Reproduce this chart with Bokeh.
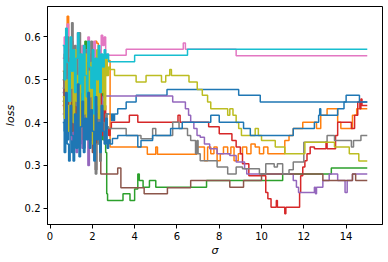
from bokeh.plotting import figure
from bokeh.models import Range1d, FixedTicker
from bokeh.embed import file_html
from bokeh.resources import INLINE

# ---------------- data ----------------
x_ticks = [0, 2, 4, 6, 8, 10, 12, 14]
y_ticks = [0.2, 0.3, 0.4, 0.5, 0.6]
x_end = 15.0

noise_x = [0.60, 0.67, 0.74, 0.81, 0.88, 0.95, 1.02, 1.09, 1.16, 1.23, 1.30, 1.37,
           1.44, 1.51, 1.58, 1.65, 1.72, 1.79, 1.86, 1.93, 2.00, 2.07, 2.14, 2.21,
           2.28, 2.35, 2.42, 2.49, 2.56, 2.63, 2.70, 2.77]

blue1_noise = [0.47, 0.38, 0.52, 0.36, 0.45, 0.40, 0.33, 0.48, 0.37, 0.42, 0.35, 0.50, 0.39,
               0.44, 0.34, 0.46, 0.41, 0.37, 0.49, 0.36, 0.43, 0.39, 0.47, 0.35, 0.42, 0.38,
               0.45, 0.40, 0.43]
blue1_x = [2.60, 2.90, 2.95, 3.00, 3.05, 3.20, 3.60, 4.07, 5.53, 8.92, 9.94, 14.00, 14.63]
blue1_y = [0.42, 0.405, 0.42, 0.405, 0.42, 0.432, 0.448, 0.464, 0.477, 0.464, 0.448, 0.464, 0.448]

orange_noise = [0.52, 0.44, 0.58, 0.648, 0.47, 0.55, 0.41, 0.50, 0.57, 0.43, 0.53, 0.46, 0.39,
                0.51, 0.45, 0.56, 0.42, 0.49, 0.54, 0.40, 0.47, 0.52, 0.59, 0.585, 0.44, 0.50,
                0.53, 0.46, 0.55, 0.51, 0.545, 0.545]
orange_x = [2.84, 4.60, 5.00, 5.08, 6.95, 7.30, 7.45, 7.60, 7.75, 7.90, 8.05, 8.20, 8.40, 8.55,
            8.70, 8.90, 9.10, 9.30, 9.50, 9.70, 9.90, 10.10, 10.30, 11.10, 11.30, 11.50, 11.95,
            12.60, 12.80, 13.10, 13.60, 13.75, 14.30, 14.50]
orange_y = [0.343, 0.326, 0.343, 0.326, 0.343, 0.311, 0.343, 0.327, 0.343, 0.311, 0.327, 0.343,
            0.327, 0.343, 0.311, 0.327, 0.343, 0.327, 0.35, 0.343, 0.327, 0.343, 0.327, 0.358,
            0.37, 0.386, 0.401, 0.386, 0.417, 0.432, 0.401, 0.386, 0.417, 0.432]

green_noise = [0.45, 0.52, 0.40, 0.48, 0.55, 0.38, 0.46, 0.50, 0.42, 0.53, 0.37, 0.47, 0.51,
               0.43, 0.49, 0.59, 0.44, 0.50, 0.39, 0.48, 0.53, 0.41, 0.46, 0.52, 0.38, 0.45,
               0.49, 0.36, 0.42, 0.33]
green_x = [2.68, 2.72, 3.45, 3.78, 4.00, 4.15, 4.22, 4.40, 4.70, 5.00, 7.40, 11.00, 13.30]
green_y = [0.234, 0.218, 0.234, 0.218, 0.245, 0.28, 0.265, 0.249, 0.265, 0.249, 0.265, 0.28, 0.294]

red_noise = [0.44, 0.50, 0.39, 0.46, 0.53, 0.41, 0.48, 0.36, 0.45, 0.51, 0.40, 0.47, 0.43,
             0.38, 0.49, 0.42, 0.52, 0.37, 0.46, 0.41, 0.35, 0.48, 0.43, 0.39, 0.45, 0.50,
             0.42, 0.37, 0.44, 0.40, 0.386, 0.37]
red_x = [2.84, 2.90, 3.75, 4.15, 6.05, 6.15, 7.50, 8.00, 8.60, 8.80, 9.00, 9.10, 9.40, 10.20,
         10.30, 10.45, 10.70, 10.75, 11.10, 11.15, 11.80, 11.85, 11.95, 12.05, 12.15, 12.30,
         12.50, 13.05, 13.10, 13.50, 13.60, 14.25, 14.40, 14.55, 14.65, 14.70, 14.75]
red_y = [0.386, 0.401, 0.417, 0.401, 0.417, 0.401, 0.39, 0.374, 0.358, 0.343, 0.327, 0.304,
         0.276, 0.237, 0.222, 0.202, 0.218, 0.202, 0.187, 0.202, 0.237, 0.276, 0.296, 0.311,
         0.327, 0.343, 0.339, 0.355, 0.339, 0.37, 0.401, 0.386, 0.417, 0.448, 0.432, 0.455, 0.44]

purple_noise = [0.42, 0.49, 0.37, 0.45, 0.40, 0.51, 0.36, 0.44, 0.39, 0.33, 0.47, 0.35, 0.41,
                0.34, 0.46, 0.38, 0.43, 0.30, 0.48, 0.36, 0.42, 0.39, 0.45, 0.37, 0.50, 0.41,
                0.44, 0.46]
purple_x = [2.52, 5.80, 6.40, 6.55, 6.65, 6.80, 6.95, 7.10, 7.30, 7.55, 7.90, 8.50, 8.80, 9.20,
            9.30, 11.50, 11.65, 11.75, 12.50, 12.55, 12.60, 12.90, 13.20, 13.60, 13.95, 14.05, 14.30]
purple_y = [0.462, 0.448, 0.432, 0.417, 0.401, 0.386, 0.37, 0.366, 0.35, 0.339, 0.327, 0.323,
            0.308, 0.292, 0.28, 0.265, 0.249, 0.237, 0.249, 0.234, 0.249, 0.265, 0.28, 0.265,
            0.237, 0.265, 0.28]

brown_noise = [0.50, 0.43, 0.56, 0.40, 0.48, 0.53, 0.38, 0.46, 0.42, 0.55, 0.37, 0.49, 0.44,
               0.51, 0.36, 0.47, 0.41, 0.54, 0.39, 0.45, 0.33, 0.48, 0.29, 0.42, 0.36, 0.31]
brown_x = [2.40, 3.20, 3.35, 4.45, 5.55, 6.65, 8.50, 9.15, 10.00, 12.90, 14.30, 14.45]
brown_y = [0.28, 0.294, 0.248, 0.234, 0.248, 0.265, 0.249, 0.265, 0.28, 0.265, 0.28, 0.265]

pink_noise = [0.55, 0.60, 0.50, 0.63, 0.57, 0.52, 0.59, 0.48, 0.56, 0.53, 0.61, 0.49, 0.55,
              0.58, 0.51, 0.57, 0.54, 0.60, 0.50, 0.56, 0.53, 0.59, 0.49, 0.55, 0.57, 0.52,
              0.604, 0.58, 0.60, 0.56, 0.557]
pink_x = [2.74, 3.60, 6.30, 6.40, 8.80]
pink_y = [0.557, 0.571, 0.586, 0.571, 0.556]

gray_noise = [0.48, 0.56, 0.42, 0.60, 0.51, 0.45, 0.633, 0.50, 0.58, 0.44, 0.55, 0.61, 0.47,
              0.53, 0.40, 0.57, 0.49, 0.54, 0.43, 0.59, 0.46, 0.38, 0.28, 0.35, 0.52, 0.31,
              0.44, 0.40, 0.36, 0.42, 0.39, 0.386]
gray_x = [2.84, 3.60, 4.30, 4.85, 5.00, 5.80, 6.10, 6.50, 6.65, 6.88, 6.95, 7.00, 7.10, 7.90,
          8.40, 8.80, 9.10, 9.90, 10.20, 10.60, 10.75, 11.00, 11.30, 11.50, 12.00, 13.10, 13.45,
          14.25, 14.35, 14.70]
gray_y = [0.386, 0.37, 0.362, 0.386, 0.37, 0.401, 0.386, 0.37, 0.358, 0.327, 0.358, 0.327,
          0.311, 0.296, 0.28, 0.296, 0.292, 0.28, 0.304, 0.296, 0.304, 0.28, 0.29, 0.308,
          0.354, 0.37, 0.358, 0.343, 0.358, 0.37]

olive_noise = [0.46, 0.41, 0.50, 0.44, 0.38, 0.48, 0.53, 0.40, 0.57, 0.45, 0.51, 0.36, 0.55,
               0.47, 0.42, 0.56, 0.39, 0.52, 0.46, 0.54, 0.35, 0.49, 0.44, 0.57, 0.41, 0.50,
               0.47, 0.53, 0.43, 0.55, 0.51, 0.53]
olive_x = [2.84, 3.05, 4.07, 4.54, 5.27, 5.47, 5.66, 5.74, 6.57, 6.96, 7.20, 7.45, 7.60, 8.40,
           8.50, 8.65, 8.80, 8.92, 9.05, 9.70, 9.85, 10.00, 10.65, 11.10, 12.05, 13.45, 14.15, 14.60]
olive_y = [0.524, 0.51, 0.495, 0.51, 0.495, 0.51, 0.524, 0.51, 0.495, 0.477, 0.464, 0.448,
           0.432, 0.417, 0.432, 0.417, 0.40, 0.386, 0.37, 0.386, 0.37, 0.358, 0.343, 0.327,
           0.354, 0.343, 0.327, 0.31]

cyan_noise = [0.58, 0.50, 0.62, 0.54, 0.45, 0.60, 0.52, 0.57, 0.47, 0.55, 0.61, 0.49, 0.56,
              0.43, 0.58, 0.51, 0.46, 0.59, 0.53, 0.48, 0.57, 0.42, 0.55, 0.50, 0.58, 0.47,
              0.56, 0.53, 0.57, 0.55, 0.56, 0.542]
cyan_x = [2.84, 4.00, 6.50]
cyan_y = [0.542, 0.557, 0.571]

blue2_noise = [0.40, 0.33, 0.47, 0.35, 0.31, 0.44, 0.37, 0.31, 0.42, 0.34, 0.49, 0.32, 0.39,
               0.45, 0.33, 0.41, 0.36, 0.47, 0.34, 0.43, 0.38, 0.31, 0.46, 0.36, 0.40, 0.33,
               0.44, 0.38, 0.35, 0.41, 0.34, 0.36]
blue2_x = [2.84, 2.95, 3.20, 4.15, 4.30, 4.85, 5.70, 6.25, 7.60, 8.00, 9.15, 9.47, 11.50,
           12.50, 12.70, 12.75, 12.80, 13.60, 13.90]
blue2_y = [0.35, 0.363, 0.37, 0.343, 0.358, 0.37, 0.386, 0.401, 0.417, 0.401, 0.386, 0.37,
           0.386, 0.401, 0.417, 0.432, 0.417, 0.432, 0.448]

series = [
    ("#1f77b4", blue1_noise, blue1_x, blue1_y),
    ("#ff7f0e", orange_noise, orange_x, orange_y),
    ("#2ca02c", green_noise, green_x, green_y),
    ("#d62728", red_noise, red_x, red_y),
    ("#9467bd", purple_noise, purple_x, purple_y),
    ("#8c564b", brown_noise, brown_x, brown_y),
    ("#e377c2", pink_noise, pink_x, pink_y),
    ("#7f7f7f", gray_noise, gray_x, gray_y),
    ("#bcbd22", olive_noise, olive_x, olive_y),
    ("#17becf", cyan_noise, cyan_x, cyan_y),
    ("#1f77b4", blue2_noise, blue2_x, blue2_y),
]

# ---------------- figure ----------------
FONT = "DejaVu Sans"
p = figure(width=388, height=262, output_backend="svg", toolbar_location=None,
           x_range=Range1d(-0.12, 15.72), y_range=Range1d(0.162, 0.671),
           min_border_left=46, min_border_right=6, min_border_top=6, min_border_bottom=38)

for color, nz, tx, ty in series:
    xs = noise_x[:len(nz)] + tx + [x_end]
    ys = nz + ty + [ty[-1]]
    p.step(xs, ys, mode="after", line_color=color, line_width=1.5)

p.xgrid.visible = False
p.ygrid.visible = False
p.outline_line_color = "black"
p.outline_line_width = 1
p.background_fill_color = "white"
p.border_fill_color = "white"

p.xaxis.ticker = FixedTicker(ticks=x_ticks)
p.yaxis.ticker = FixedTicker(ticks=y_ticks)
p.xaxis.axis_label = "σ"
p.yaxis.axis_label = "loss"
for ax in (p.xaxis, p.yaxis):
    ax.axis_line_color = "black"
    ax.major_tick_line_color = "black"
    ax.major_tick_out = 4
    ax.major_tick_in = 0
    ax.minor_tick_line_color = None
    ax.major_label_text_font = FONT
    ax.major_label_text_font_size = "10px"
    ax.major_label_text_color = "black"
    ax.major_label_standoff = 3
    ax.axis_label_text_font = FONT
    ax.axis_label_text_font_size = "11px"
    ax.axis_label_text_font_style = "italic"
    ax.axis_label_text_color = "black"
p.yaxis.axis_label_standoff = 5
p.xaxis.axis_label_standoff = 1

open("out.html", "w").write(file_html(p, INLINE))
